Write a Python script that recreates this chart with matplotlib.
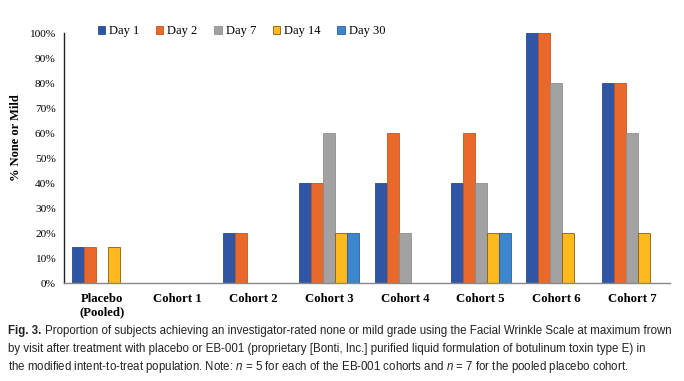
import matplotlib
matplotlib.use("Agg")
import matplotlib.pyplot as plt
import numpy as np

# data (percent of subjects)
cohorts = ["Placebo\n(Pooled)", "Cohort 1", "Cohort 2", "Cohort 3",
           "Cohort 4", "Cohort 5", "Cohort 6", "Cohort 7"]
days = ["Day 1", "Day 2", "Day 7", "Day 14", "Day 30"]
day1 = [14.3, 0, 20, 40, 40, 40, 100, 80]
day2 = [14.3, 0, 20, 40, 60, 60, 100, 80]
day7 = [0, 0, 0, 60, 20, 40, 80, 60]
day14 = [14.3, 0, 0, 20, 0, 20, 20, 20]
day30 = [0, 0, 0, 20, 0, 20, 0, 0]
yticks = [0, 10, 20, 30, 40, 50, 60, 70, 80, 90, 100]

colors = ["#2F55A4", "#E8692B", "#A2A2A2", "#FDB91E", "#3B86CC"]
edges = ["#2A4A8E", "#C2561F", "#8E8E8E", "#8A5A10", "#2D5F95"]

plt.rcParams["mathtext.fontset"] = "custom"
plt.rcParams["mathtext.it"] = "Liberation Sans:italic"
plt.rcParams["mathtext.rm"] = "Liberation Sans"

fig = plt.figure(figsize=(6.84, 3.81), dpi=100)
ax = fig.add_axes([0.0936, 0.257, 0.886, 0.656])

x = np.arange(len(cohorts))
w = 0.158
series = [day1, day2, day7, day14, day30]
for i, (vals, lab) in enumerate(zip(series, days)):
    ax.bar(x + (i - 2) * w, vals, width=w, color=colors[i],
           edgecolor=edges[i], linewidth=0.6, label=lab)

ax.set_xlim(-0.5, len(cohorts) - 0.5)
ax.set_ylim(0, 100)
ax.set_yticks(yticks)
ax.set_yticklabels([f"{v}%" for v in yticks], family="Liberation Serif",
                   fontsize=8.2)
ax.set_xticks(x)
ax.set_xticklabels(cohorts, family="Liberation Serif", fontweight="bold",
                   fontsize=9.2)
ax.tick_params(length=0, pad=6)
ax.tick_params(axis="x", pad=7)
for s in ["top", "right"]:
    ax.spines[s].set_visible(False)
ax.spines["left"].set_color("#222222")
ax.spines["left"].set_linewidth(1.0)
ax.spines["bottom"].set_color("#888888")
ax.spines["bottom"].set_linewidth(1.0)

ax.set_ylabel("% None or Mild", family="Liberation Serif", fontweight="bold",
              fontsize=9)
ax.yaxis.set_label_coords(-0.069, 0.58)

ax.legend(loc="upper left", bbox_to_anchor=(0.047, 1.052), ncol=5,
          frameon=False, prop={"family": "Liberation Serif", "size": 9},
          handlelength=0.6, handleheight=0.6, handletextpad=0.3,
          columnspacing=1.35, borderaxespad=0)

# caption
cap_font = {"family": "Liberation Sans", "size": 8.3, "color": "#222222"}
fig.canvas.draw()
r = fig.canvas.get_renderer()
t0 = fig.text(0.012, 0.124, "Fig. 3.", fontweight="bold", **cap_font)
bb = t0.get_window_extent(r)
fig.text((bb.x1 + 3) / fig.bbox.width, 0.124,
         "Proportion of subjects achieving an investigator-rated none or mild "
         "grade using the Facial Wrinkle Scale at maximum frown", **cap_font)
fig.text(0.012, 0.076,
         "by visit after treatment with placebo or EB-001 (proprietary [Bonti, "
         "Inc.] purified liquid formulation of botulinum toxin type E) in",
         **cap_font)
fig.text(0.012, 0.028,
         "the modified intent-to-treat population. Note: $n$ = 5 for each of "
         "the EB-001 cohorts and $n$ = 7 for the pooled placebo cohort.",
         **cap_font)

fig.savefig("out.png", dpi=100)
